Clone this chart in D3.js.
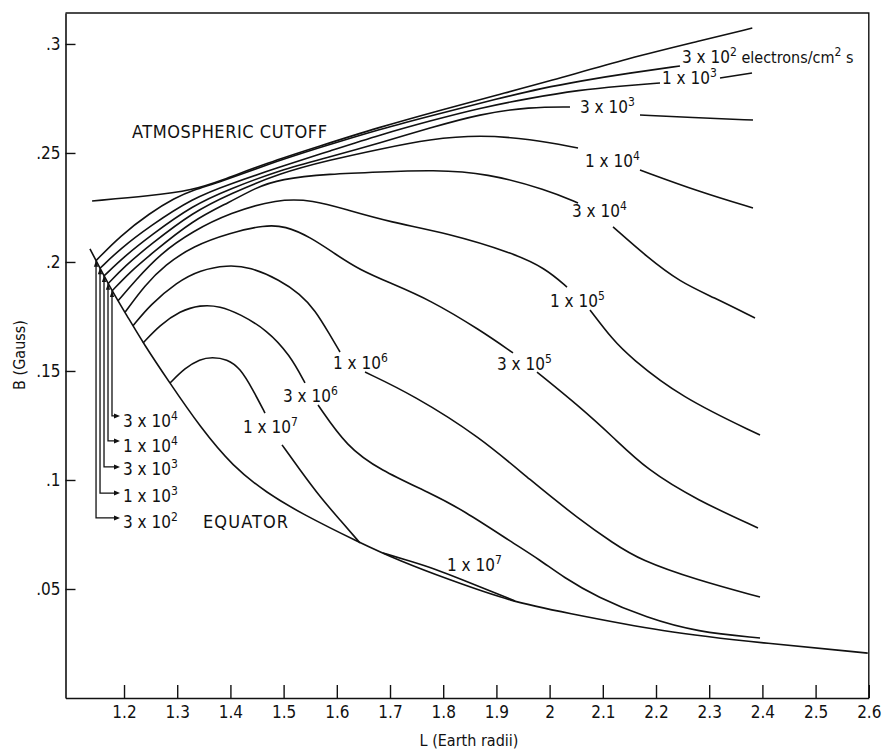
<!DOCTYPE html>
<html><head><meta charset="utf-8">
<script src="https://cdn.jsdelivr.net/npm/d3@7"></script>
<style>
body{margin:0;background:#fff;}
svg{display:block;}
text{font-family:"Liberation Sans Narrow","DejaVu Sans Condensed","Arial Narrow",sans-serif;fill:#111;}
</style></head><body>
<svg id="chart" width="883" height="753"></svg>
<script>
// ---- axis ticks ----
const xTicks=[1.2,1.3,1.4,1.5,1.6,1.7,1.8,1.9,2.0,2.1,2.2,2.3,2.4,2.5,2.6];
const xTickLabels=["1.2","1.3","1.4","1.5","1.6","1.7","1.8","1.9","2","2.1","2.2","2.3","2.4","2.5","2.6"];
const yTicks=[0.05,0.10,0.15,0.20,0.25,0.30];
const yTickLabels=[".05",".1",".15",".2",".25",".3"];

// ---- boundary curves [L, B] ----
const equator=[[1.136,0.2060],[1.174,0.1881],[1.206,0.1752],[1.236,0.1628],[1.286,0.1445],[1.343,0.1243],[1.405,0.1060],[1.469,0.0940],[1.531,0.0849],[1.644,0.0711],[1.719,0.0628],[1.807,0.0546],[1.931,0.0440],[2.025,0.0394],[2.213,0.0303],[2.401,0.0252],[2.598,0.0206]];
const cutoff=[[1.140,0.2280],[1.249,0.2303],[1.330,0.2330],[1.381,0.2372],[1.469,0.2454],[1.563,0.2528],[1.681,0.2619],[1.790,0.2693],[1.901,0.2766],[1.995,0.2826],[2.151,0.2936],[2.283,0.3014],[2.381,0.3073]];

// ---- flux contours (electrons/cm^2 s), split where labels interrupt ----
const c3e2=[[1.1474,0.2006],[1.1925,0.2119],[1.2489,0.2225],[1.2959,0.2294],[1.3297,0.2330],[1.3805,0.2367],[1.4688,0.2447],[1.5628,0.2521],[1.6812,0.2610],[1.7902,0.2679],[1.9011,0.2748],[1.9876,0.2798],[2.0571,0.2830],[2.1511,0.2867],[2.2451,0.2899]];
const c1e3a=[[1.1549,0.1971],[1.1925,0.2060],[1.2489,0.2165],[1.3297,0.2294],[1.3992,0.2358],[1.4932,0.2436],[1.5872,0.2509],[1.6812,0.2583],[1.7752,0.2647],[1.8692,0.2706],[1.9632,0.2752],[2.0571,0.2789],[2.1323,0.2807],[2.2075,0.2821]];
const c1e3b=[[2.3203,0.2844],[2.3805,0.2867]];
const c3e3a=[[1.1624,0.1936],[1.2019,0.2028],[1.2489,0.2119],[1.3297,0.2261],[1.3992,0.2335],[1.4932,0.2422],[1.5872,0.2482],[1.6812,0.2546],[1.7752,0.2615],[1.8692,0.2679],[1.9632,0.2711],[2.0383,0.2711]];
const c3e3b=[[2.1699,0.2674],[2.2827,0.2661],[2.3823,0.2651]];
const c1e4a=[[1.1699,0.1900],[1.2019,0.1982],[1.2489,0.2078],[1.3297,0.2229],[1.3992,0.2312],[1.4932,0.2408],[1.5872,0.2468],[1.6812,0.2518],[1.7752,0.2564],[1.8692,0.2583],[1.9632,0.2564],[2.0534,0.2523]];
const c1e4b=[[2.1699,0.2422],[2.2827,0.2321],[2.3823,0.2248]];
const c3e4a=[[1.1774,0.1867],[1.2113,0.1954],[1.2489,0.2032],[1.3297,0.2193],[1.3992,0.2275],[1.4462,0.2339],[1.4932,0.2381],[1.5872,0.2404],[1.6812,0.2413],[1.7808,0.2422],[1.8823,0.2408],[1.9951,0.2330],[2.0534,0.2271]];
const c3e4b=[[2.1192,0.2161],[2.1831,0.2023],[2.2451,0.1908],[2.3071,0.1839],[2.3861,0.1743]];
const c1e5a=[[1.1887,0.1822],[1.2207,0.1913],[1.2677,0.2037],[1.3297,0.2142],[1.3992,0.2225],[1.4876,0.2289],[1.5553,0.2284],[1.6192,0.2239],[1.7000,0.2183],[1.8071,0.2133],[1.9312,0.2041],[1.9914,0.1972],[2.0327,0.1885]];
const c1e5b=[[2.0759,0.1780],[2.1192,0.1642],[2.1511,0.1564],[2.2451,0.1381],[2.3955,0.1206]];
const c3e5a=[[1.2019,0.1769],[1.2395,0.1894],[1.2771,0.1986],[1.3297,0.2073],[1.3992,0.2133],[1.4650,0.2170],[1.5026,0.2165],[1.5496,0.2115],[1.5966,0.2037],[1.6436,0.1963],[1.7000,0.1904],[1.7752,0.1826],[1.8692,0.1688],[1.9312,0.1583]];
const c3e5b=[[1.9763,0.1495],[2.0571,0.1335],[2.1192,0.1197],[2.1831,0.1046],[2.2771,0.0908],[2.3917,0.0780]];
const c1e6a=[[1.2169,0.1707],[1.2489,0.1803],[1.2996,0.1908],[1.3429,0.1963],[1.3936,0.1986],[1.4368,0.1977],[1.4932,0.1917],[1.5308,0.1853],[1.5590,0.1780],[1.5872,0.1665],[1.6060,0.1587]];
const c1e6b=[[1.6530,0.1495],[1.7432,0.1390],[1.8692,0.1197],[1.9632,0.1000],[2.0571,0.0817],[2.1192,0.0711],[2.1699,0.0633],[2.2771,0.0541],[2.3955,0.0463]];
const c3e6a=[[1.2357,0.1628],[1.2677,0.1711],[1.3053,0.1775],[1.3429,0.1803],[1.3805,0.1798],[1.4180,0.1761],[1.4688,0.1688],[1.5120,0.1573],[1.5402,0.1445]];
const c3e6b=[[1.5647,0.1344],[1.6192,0.1151],[1.6812,0.1046],[1.7752,0.0940],[1.8372,0.0862],[1.9312,0.0711],[1.9820,0.0633],[2.0252,0.0555],[2.0891,0.0463],[2.1831,0.0367],[2.2771,0.0303],[2.3955,0.0275]];
const c1e7a=[[1.2865,0.1445],[1.3147,0.1514],[1.3429,0.1555],[1.3654,0.1564],[1.3936,0.1555],[1.4180,0.1514],[1.4425,0.1413],[1.4650,0.1307]];
const c1e7b=[[1.4970,0.1161],[1.5308,0.1046],[1.5684,0.0922],[1.6060,0.0817],[1.6436,0.0711]];
const c1e7island=[[1.6868,0.0665],[1.7376,0.0628],[1.7846,0.0592],[1.8372,0.0541],[1.8880,0.0491],[1.9350,0.0445]];

// ---- label annotations: mantissa, exponent, anchor [L, B] ----
const labelMant=["3","1","3","1","3","1","3","1","3","1","1"];
const labelExp=["2","3","3","4","4","5","5","6","6","7","7"];
const labelL=[2.2489,2.2113,2.0571,2.0665,2.0421,2.0008,1.9011,1.5929,1.4989,1.4237,1.8071];
const labelB=[0.2913,0.2817,0.2683,0.2436,0.2206,0.1794,0.1505,0.1509,0.1358,0.1216,0.0583];
// left-hand callouts (3e2 .. 3e4)
const calloutMant=["3","1","3","1","3"];
const calloutExp=["2","3","3","4","4"];
const calloutLeadB=[0.0826,0.0940,0.1060,0.1179,0.1294];
const calloutTextB=[0.0780,0.0899,0.1023,0.1128,0.1243];

const svg=d3.select("#chart");
const x=d3.scaleLinear().domain([1.09,2.6]).range([65.5,868.8]);
const y=d3.scaleLinear().domain([0,0.3142]).range([698,13]);
const line=d3.line().x(d=>x(d[0])).y(d=>y(d[1])).curve(d3.curveBasis);
const straight=d3.line().x(d=>x(d[0])).y(d=>y(d[1]));

// axes
const gx=svg.append("g").attr("transform",`translate(0,${y(0)})`)
  .call(d3.axisBottom(x).tickValues(xTicks).tickFormat((d,i)=>xTickLabels[i]).tickSizeInner(-13).tickSizeOuter(0).tickPadding(8));
const gy=svg.append("g").attr("transform",`translate(${x(1.09)},0)`)
  .call(d3.axisLeft(y).tickValues(yTicks).tickFormat((d,i)=>yTickLabels[i]).tickSizeInner(-10).tickSizeOuter(0).tickPadding(5));
[gx,gy].forEach(g=>{
  g.select(".domain").attr("stroke","#111").attr("stroke-width",1.6);
  g.selectAll(".tick line").attr("stroke","#111").attr("stroke-width",1.4);
  g.selectAll(".tick text").attr("font-size",17).attr("fill","#111")
   .style("font-family",'"Liberation Sans Narrow","DejaVu Sans Condensed",sans-serif');
});
// frame top & right
svg.append("path").attr("d",straight([[1.09,0.3142],[2.6,0.3142],[2.6,0]])).attr("fill","none").attr("stroke","#111").attr("stroke-width",1.4);

// curves
const curves=[equator,cutoff,c3e2,c1e3a,c1e3b,c3e3a,c3e3b,c1e4a,c1e4b,c3e4a,c3e4b,c1e5a,c1e5b,c3e5a,c3e5b,c1e6a,c1e6b,c3e6a,c3e6b,c1e7a,c1e7b,c1e7island];
svg.append("g").selectAll("path").data(curves).join("path")
  .attr("d",line).attr("fill","none").attr("stroke","#111").attr("stroke-width",1.6).attr("stroke-linejoin","round");

// labels
function fluxLabel(L,B,m,e,unit){
  const t=svg.append("text").attr("x",x(L)).attr("y",y(B)).attr("font-size",17);
  t.append("tspan").text(m+" x 10");
  t.append("tspan").attr("dy",-7).attr("font-size",12).text(e);
  if(unit){
    t.append("tspan").attr("dy",7).attr("font-size",16).text(" electrons/cm");
    t.append("tspan").attr("dy",-7).attr("font-size",12).text("2");
    t.append("tspan").attr("dy",7).attr("font-size",16).text(" s");
  }
}
labelMant.forEach((m,i)=>fluxLabel(labelL[i],labelB[i],m,labelExp[i],i===0));

// left callouts with leaders
const starts=[c3e2[0],c1e3a[0],c3e3a[0],c1e4a[0],c3e4a[0]];
const tipL=1.1925, textL=1.1981;
starts.forEach((s,i)=>{
  svg.append("path").attr("d",straight([s,[s[0],calloutLeadB[i]],[tipL-0.008,calloutLeadB[i]]]))
    .attr("fill","none").attr("stroke","#111").attr("stroke-width",1.3);
  const px=x(tipL), py=y(calloutLeadB[i]);
  svg.append("path").attr("d",`M${px},${py}L${px-6},${py-2.5}L${px-6},${py+2.5}Z`).attr("fill","#111");
  const sx=x(s[0]), sy=y(s[1]);
  svg.append("path").attr("d",`M${sx},${sy}L${sx-2.2},${sy+6}L${sx+2.2},${sy+6}Z`).attr("fill","#111");
  fluxLabel(textL,calloutTextB[i],calloutMant[i],calloutExp[i],false);
});

// text annotations
svg.append("text").attr("x",x(1.2150)).attr("y",y(0.2569)).attr("font-size",18)
  .attr("textLength",195).attr("lengthAdjust","spacing").text("ATMOSPHERIC CUTOFF");
svg.append("text").attr("x",x(1.3485)).attr("y",y(0.0780)).attr("font-size",18)
  .attr("textLength",85).attr("lengthAdjust","spacing").text("EQUATOR");

// axis titles
svg.append("text").attr("x",469).attr("y",746).attr("text-anchor","middle").attr("font-size",16).text("L (Earth radii)");
svg.append("text").attr("transform","translate(25,355) rotate(-90)").attr("text-anchor","middle").attr("font-size",16).text("B (Gauss)");
</script>
</body></html>
